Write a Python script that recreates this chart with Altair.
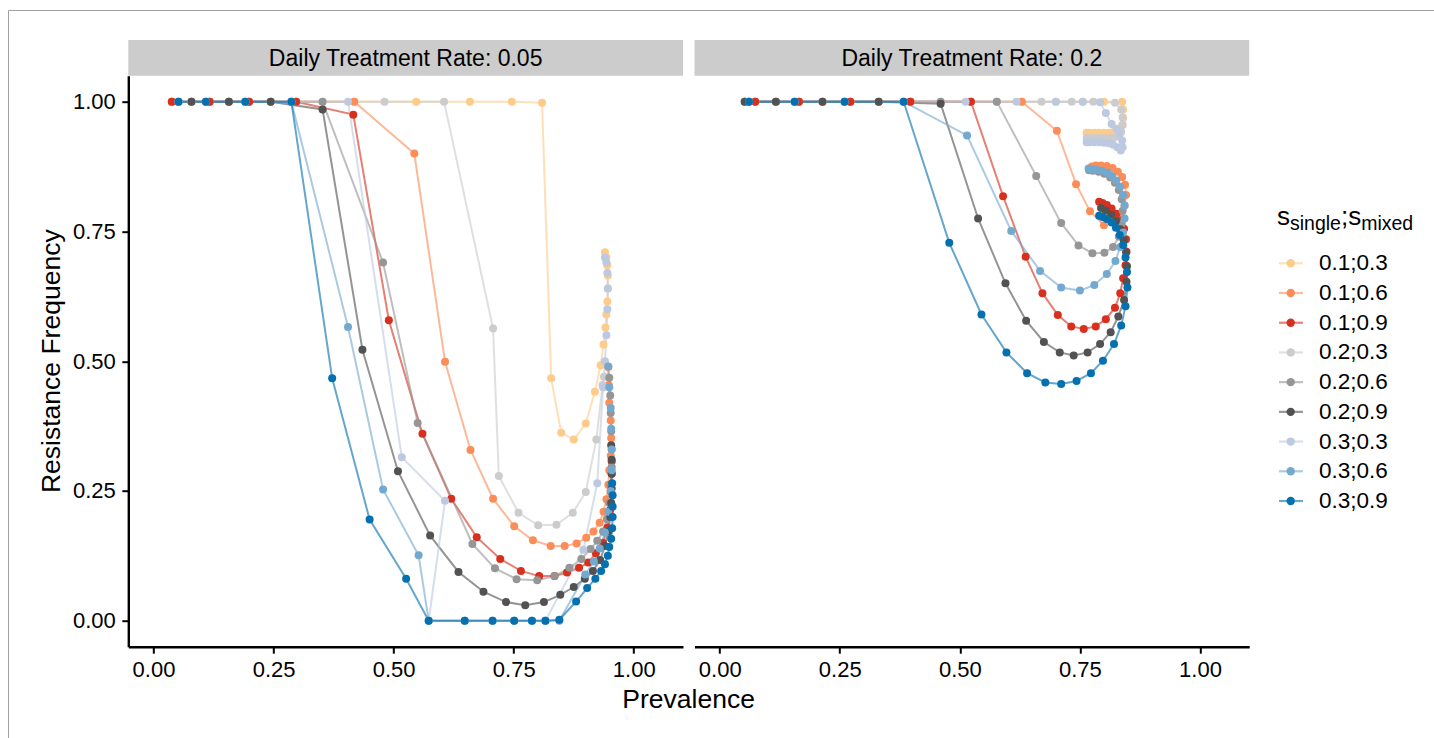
import altair as alt
import pandas as pd

# ---------------- data ----------------
series_names = ["0.1;0.3", "0.1;0.6", "0.1;0.9", "0.2;0.3", "0.2;0.6",
                "0.2;0.9", "0.3;0.3", "0.3;0.6", "0.3;0.9"]
series_colors = ["#FDCC8A", "#FC8D59", "#D7301F", "#CCCCCC", "#969696",
                 "#525252", "#BDC9E1", "#74A9CF", "#0570B0"]
panel_labels = ["Daily Treatment Rate: 0.05", "Daily Treatment Rate: 0.2"]
x_ticks = [0.0, 0.25, 0.5, 0.75, 1.0]
y_ticks = [0.0, 0.25, 0.5, 0.75, 1.0]

# --- panel 1: daily treatment rate 0.05 ---
L13_x = [0.038, 0.117, 0.199, 0.297, 0.418, 0.547, 0.659, 0.746, 0.809, 0.828, 0.849, 0.875, 0.900, 0.919, 0.931, 0.937, 0.941, 0.943, 0.945, 0.946, 0.946, 0.945, 0.943, 0.940]
L13_y = [1, 1, 1, 1, 1, 1, 1, 1, 0.998, 0.467, 0.362, 0.349, 0.380, 0.441, 0.492, 0.532, 0.565, 0.590, 0.615, 0.640, 0.665, 0.685, 0.700, 0.710]
L16_x = [0.038, 0.117, 0.199, 0.297, 0.418, 0.543, 0.607, 0.660, 0.707, 0.751, 0.790, 0.827, 0.856, 0.881, 0.901, 0.916, 0.929, 0.937, 0.943, 0.947, 0.949, 0.952, 0.953, 0.952, 0.949, 0.948, 0.947]
L16_y = [1, 1, 1, 1, 1, 0.900, 0.499, 0.329, 0.235, 0.182, 0.155, 0.144, 0.144, 0.149, 0.160, 0.172, 0.189, 0.210, 0.234, 0.262, 0.290, 0.318, 0.352, 0.386, 0.420, 0.454, 0.489]
L19_x = [0.038, 0.117, 0.199, 0.297, 0.416, 0.490, 0.560, 0.620, 0.673, 0.722, 0.765, 0.803, 0.835, 0.861, 0.886, 0.905, 0.921, 0.936, 0.945, 0.951, 0.953, 0.954, 0.954]
L19_y = [1, 1, 1, 1, 0.975, 0.579, 0.360, 0.235, 0.161, 0.119, 0.096, 0.086, 0.086, 0.093, 0.102, 0.112, 0.130, 0.150, 0.179, 0.214, 0.248, 0.283, 0.307]
L23_x = [0.079, 0.157, 0.244, 0.352, 0.481, 0.605, 0.707, 0.719, 0.760, 0.801, 0.839, 0.873, 0.900, 0.922, 0.935, 0.938]
L23_y = [1, 1, 1, 1, 1, 1, 0.563, 0.279, 0.208, 0.184, 0.185, 0.208, 0.248, 0.349, 0.454, 0.470]
L26_x = [0.079, 0.157, 0.244, 0.352, 0.478, 0.550, 0.664, 0.711, 0.756, 0.799, 0.835, 0.866, 0.891, 0.910, 0.924, 0.936, 0.944, 0.949, 0.952, 0.954, 0.954, 0.953, 0.952, 0.951, 0.949]
L26_y = [1, 1, 1, 1, 0.690, 0.381, 0.148, 0.101, 0.080, 0.078, 0.086, 0.102, 0.119, 0.138, 0.154, 0.172, 0.196, 0.227, 0.262, 0.296, 0.331, 0.365, 0.400, 0.434, 0.468]
L29_x = [0.079, 0.157, 0.244, 0.352, 0.435, 0.509, 0.576, 0.635, 0.687, 0.734, 0.774, 0.813, 0.847, 0.875, 0.898, 0.915, 0.930, 0.940, 0.947, 0.951, 0.953, 0.954, 0.954, 0.954, 0.953]
L29_y = [1, 1, 1, 0.985, 0.522, 0.288, 0.164, 0.094, 0.056, 0.036, 0.030, 0.036, 0.050, 0.065, 0.081, 0.096, 0.117, 0.144, 0.172, 0.200, 0.227, 0.255, 0.283, 0.310, 0.338]
L33_x = [0.052, 0.109, 0.191, 0.287, 0.405, 0.517, 0.607, 0.573, 0.648, 0.706, 0.751, 0.788, 0.816, 0.895, 0.924, 0.936, 0.940, 0.943, 0.945, 0.946, 0.945, 0.943, 0.940]
L33_y = [1, 1, 1, 1, 1, 0.315, 0.231, 0, 0, 0, 0, 0, 0, 0.137, 0.265, 0.450, 0.500, 0.550, 0.600, 0.640, 0.670, 0.690, 0.700]
L36_x = [0.052, 0.109, 0.191, 0.287, 0.405, 0.478, 0.552, 0.573, 0.648, 0.706, 0.751, 0.788, 0.816, 0.845, 0.899, 0.917, 0.929, 0.940, 0.947, 0.952, 0.954, 0.954, 0.953, 0.952, 0.949, 0.947]
L36_y = [1, 1, 1, 1, 0.566, 0.253, 0.126, 0, 0, 0, 0, 0, 0, 0, 0.089, 0.114, 0.139, 0.170, 0.210, 0.250, 0.290, 0.330, 0.370, 0.410, 0.450, 0.490]
L39_x = [0.052, 0.109, 0.191, 0.287, 0.372, 0.450, 0.526, 0.573, 0.648, 0.706, 0.751, 0.788, 0.816, 0.845, 0.880, 0.903, 0.920, 0.932, 0.940, 0.946, 0.949, 0.953, 0.955, 0.956, 0.956, 0.956, 0.955]
L39_y = [1, 1, 1, 1, 0.467, 0.195, 0.081, 0, 0, 0, 0, 0, 0, 0.002, 0.037, 0.063, 0.081, 0.096, 0.109, 0.125, 0.142, 0.158, 0.178, 0.200, 0.220, 0.242, 0.265]

# --- panel 2: daily treatment rate 0.2 ---
R13_x = [0.074, 0.165, 0.272, 0.397, 0.523, 0.629, 0.700, 0.756, 0.800, 0.838, 0.840, 0.840, 0.838, 0.833, 0.826, 0.818, 0.810, 0.800, 0.790, 0.780, 0.770, 0.764]
R13_y = [1, 1, 1, 1, 1, 1, 1, 1, 1, 1, 0.985, 0.968, 0.955, 0.946, 0.942, 0.941, 0.940, 0.940, 0.940, 0.940, 0.940, 0.940]
R16_x = [0.074, 0.165, 0.272, 0.397, 0.523, 0.629, 0.702, 0.742, 0.771, 0.800, 0.820, 0.834, 0.843, 0.846, 0.844, 0.838, 0.829, 0.818, 0.806, 0.794, 0.783, 0.775]
R16_y = [1, 1, 1, 1, 1, 1, 0.944, 0.841, 0.789, 0.762, 0.768, 0.782, 0.800, 0.820, 0.840, 0.855, 0.865, 0.872, 0.876, 0.877, 0.877, 0.875]
R19_x = [0.074, 0.165, 0.272, 0.397, 0.523, 0.590, 0.637, 0.672, 0.704, 0.732, 0.758, 0.783, 0.804, 0.823, 0.834, 0.840, 0.845, 0.847, 0.846, 0.842, 0.835, 0.826, 0.816, 0.806, 0.797, 0.790]
R19_y = [1, 1, 1, 1, 1, 0.818, 0.701, 0.631, 0.589, 0.567, 0.562, 0.567, 0.581, 0.603, 0.631, 0.660, 0.685, 0.711, 0.735, 0.755, 0.771, 0.784, 0.794, 0.801, 0.805, 0.807]
R23_x = [0.052, 0.117, 0.214, 0.331, 0.460, 0.577, 0.670, 0.733, 0.778, 0.823, 0.836, 0.839, 0.839, 0.836, 0.830, 0.822, 0.812, 0.800, 0.790, 0.780, 0.770, 0.764]
R23_y = [1, 1, 1, 1, 1, 1, 1, 1, 1, 0.998, 0.985, 0.970, 0.955, 0.942, 0.934, 0.931, 0.930, 0.930, 0.930, 0.930, 0.930, 0.930]
R26_x = [0.052, 0.117, 0.214, 0.331, 0.460, 0.577, 0.659, 0.711, 0.747, 0.776, 0.801, 0.819, 0.831, 0.837, 0.839, 0.837, 0.831, 0.823, 0.813, 0.801, 0.789, 0.777, 0.769]
R26_y = [1, 1, 1, 1, 1, 1, 0.857, 0.766, 0.723, 0.708, 0.709, 0.720, 0.740, 0.765, 0.790, 0.812, 0.830, 0.844, 0.854, 0.861, 0.865, 0.867, 0.868]
R29_x = [0.052, 0.117, 0.214, 0.331, 0.460, 0.538, 0.595, 0.638, 0.675, 0.708, 0.737, 0.766, 0.792, 0.814, 0.830, 0.842, 0.847, 0.848, 0.846, 0.841, 0.834, 0.825, 0.815, 0.804, 0.794]
R29_y = [1, 1, 1, 1, 0.996, 0.775, 0.650, 0.578, 0.537, 0.517, 0.511, 0.517, 0.533, 0.556, 0.586, 0.618, 0.653, 0.683, 0.710, 0.734, 0.754, 0.770, 0.782, 0.790, 0.795]
R33_x = [0.061, 0.156, 0.260, 0.383, 0.512, 0.618, 0.700, 0.756, 0.792, 0.804, 0.816, 0.826, 0.833, 0.838, 0.839, 0.835, 0.828, 0.819, 0.810, 0.800, 0.790, 0.780, 0.770, 0.764]
R33_y = [1, 1, 1, 1, 1, 1, 1, 1, 0.999, 0.978, 0.957, 0.948, 0.938, 0.925, 0.912, 0.906, 0.912, 0.917, 0.920, 0.921, 0.922, 0.922, 0.922, 0.922]
R36_x = [0.061, 0.156, 0.260, 0.383, 0.515, 0.607, 0.667, 0.711, 0.750, 0.780, 0.806, 0.824, 0.834, 0.840, 0.843, 0.843, 0.840, 0.834, 0.826, 0.817, 0.807, 0.796, 0.785, 0.775, 0.768]
R36_y = [1, 1, 1, 1, 0.935, 0.751, 0.674, 0.642, 0.636, 0.647, 0.668, 0.693, 0.720, 0.748, 0.775, 0.800, 0.820, 0.836, 0.848, 0.857, 0.863, 0.867, 0.869, 0.870, 0.871]
R39_x = [0.061, 0.156, 0.260, 0.383, 0.478, 0.545, 0.597, 0.640, 0.678, 0.711, 0.743, 0.773, 0.798, 0.821, 0.836, 0.845, 0.849, 0.848, 0.845, 0.840, 0.833, 0.825, 0.816, 0.806, 0.797, 0.790]
R39_y = [1, 1, 1, 1, 0.728, 0.590, 0.517, 0.477, 0.459, 0.456, 0.462, 0.477, 0.501, 0.533, 0.569, 0.606, 0.642, 0.672, 0.700, 0.724, 0.743, 0.757, 0.767, 0.774, 0.778, 0.780]

left_series = [(L13_x, L13_y), (L16_x, L16_y), (L19_x, L19_y), (L23_x, L23_y), (L26_x, L26_y),
               (L29_x, L29_y), (L33_x, L33_y), (L36_x, L36_y), (L39_x, L39_y)]
right_series = [(R13_x, R13_y), (R16_x, R16_y), (R19_x, R19_y), (R23_x, R23_y), (R26_x, R26_y),
                (R29_x, R29_y), (R33_x, R33_y), (R36_x, R36_y), (R39_x, R39_y)]

rows = []
for panel, table in (("L", left_series), ("R", right_series)):
    for si, (xs, ys) in enumerate(table):
        for i, (xv, yv) in enumerate(zip(xs, ys)):
            rows.append({"panel": panel, "series": series_names[si], "sidx": si,
                         "idx": i, "x": xv, "y": yv})
df = pd.DataFrame(rows)
legend_df = pd.DataFrame({"series": series_names})

# ---------------- layout (pixels) ----------------
FONT = "Liberation Sans"
OX, OY = 128.3, 75.7          # plot origin in page
W, H = 1120.7, 571.0          # both panels incl. gap
PW = 554.7                    # panel width
P2 = 566.2                    # second panel left offset
XDOM = [-0.0525, 1.1025]
YDOM = [-0.05, 1.05]

color = alt.Color("series:N", scale=alt.Scale(domain=series_names, range=series_colors), legend=None)

def x_axis():
    return alt.Axis(values=x_ticks, format=".2f", title=None, grid=False,
                    domainColor="black", domainWidth=2.4, tickColor="black", tickWidth=2,
                    tickSize=6.5, labelFontSize=22, labelColor="black", labelFont=FONT,
                    labelPadding=6, orient="bottom", labelFlush=False, labelOverlap=False)

def y_axis():
    return alt.Axis(values=y_ticks, format=".2f", title=None, grid=False,
                    domainColor="black", domainWidth=2.4, tickColor="black", tickWidth=2,
                    tickSize=6.5, labelFontSize=22, labelColor="black", labelFont=FONT,
                    labelPadding=6.5, orient="left", labelFlush=False, labelOverlap=False)

def xenc(rng, show):
    return alt.X("x:Q", scale=alt.Scale(domain=XDOM, range=rng, nice=False, zero=False),
                 axis=x_axis() if show else None)

def yenc(show):
    return alt.Y("y:Q", scale=alt.Scale(domain=YDOM, nice=False, zero=False),
                 axis=y_axis() if show else None)

base = alt.Chart(df)

def panel_layers(panel, rng, show_y):
    sub = base.transform_filter(alt.datum.panel == panel)
    lines = sub.mark_line(strokeWidth=2, opacity=0.62).encode(
        x=xenc(rng, True), y=yenc(show_y), color=color, detail="series:N", order="idx:Q")
    pts = sub.mark_circle(size=64, opacity=1).encode(
        x=xenc(rng, False), y=yenc(False), color=color)
    return [lines, pts]

layers = []
layers += panel_layers("L", [0, PW], True)
layers += panel_layers("R", [P2, P2 + PW], False)

# strips
for k, lab in enumerate(panel_labels):
    x0 = 0 if k == 0 else P2
    sd = pd.DataFrame({"t": [lab]})
    layers.append(alt.Chart(sd).mark_rect(color="#cccccc").encode(
        x=alt.value(x0), x2=alt.value(x0 + PW), y=alt.value(-35.7), y2=alt.value(0)))
    layers.append(alt.Chart(sd).mark_text(font=FONT, fontSize=23, color="black",
                                          align="center", baseline="middle").encode(
        x=alt.value(x0 + PW / 2), y=alt.value(-17.2), text="t:N"))

# axis titles
layers.append(alt.Chart(pd.DataFrame({"t": ["Prevalence"]})).mark_text(
    font=FONT, fontSize=26.5, color="black", align="center", baseline="middle").encode(
    x=alt.value(688.6 - OX), y=alt.value(700 - OY), text="t:N"))
layers.append(alt.Chart(pd.DataFrame({"t": ["Resistance Frequency"]})).mark_text(
    font=FONT, fontSize=26.5, color="black", align="center", baseline="middle", angle=270).encode(
    x=alt.value(52 - OX), y=alt.value(361.2 - OY), text="t:N"))

# legend
ly = alt.Y("series:N", sort=series_names,
           scale=alt.Scale(type="point", domain=series_names, range=[263.3 - OY, 501.0 - OY], padding=0),
           axis=None)
lg = alt.Chart(legend_df)
layers.append(lg.mark_rule(strokeWidth=2.2, opacity=0.6).encode(
    y=ly, x=alt.value(1279 - OX), x2=alt.value(1303 - OX), color=color))
layers.append(lg.mark_circle(size=70, opacity=1).encode(
    y=ly, x=alt.value(1290.7 - OX), color=color))
layers.append(lg.mark_text(font=FONT, fontSize=22.5, color="black", align="left", baseline="middle").encode(
    y=ly, x=alt.value(1319 - OX), text="series:N"))

# legend title  s_single ; s_mixed
title_parts = [("s", 26, 1277.0, 225.0), ("single", 19.5, 1290.0, 230.0), (";", 26, 1341.0, 225.0),
               ("s", 26, 1348.2, 225.0), ("mixed", 19.5, 1361.2, 230.0)]
for txt, fs, px, py in title_parts:
    layers.append(alt.Chart(pd.DataFrame({"t": [txt]})).mark_text(
        font=FONT, fontSize=fs, color="black", align="left", baseline="alphabetic").encode(
        x=alt.value(px - OX), y=alt.value(py - OY), text="t:N"))

# thin page frame seen in reference
layers.append(alt.Chart(pd.DataFrame({"t": [0]})).mark_rect(
    fill="transparent", stroke="#a0a0a0", strokeWidth=1).encode(
    x=alt.value(8.5 - OX), x2=alt.value(1434 - OX + 20), y=alt.value(10.5 - OY), y2=alt.value(738 - OY + 20)))

chart = alt.layer(*layers).resolve_scale(x="independent", y="independent").properties(
    width=W, height=H,
    autosize=alt.AutoSizeParams(type="none"),
    padding={"left": OX, "top": OY, "right": 1434 - OX - W, "bottom": 738 - OY - H},
    background="white",
).configure_view(stroke=None)

chart.save("out.html", embed_options={"renderer": "svg", "actions": False})
